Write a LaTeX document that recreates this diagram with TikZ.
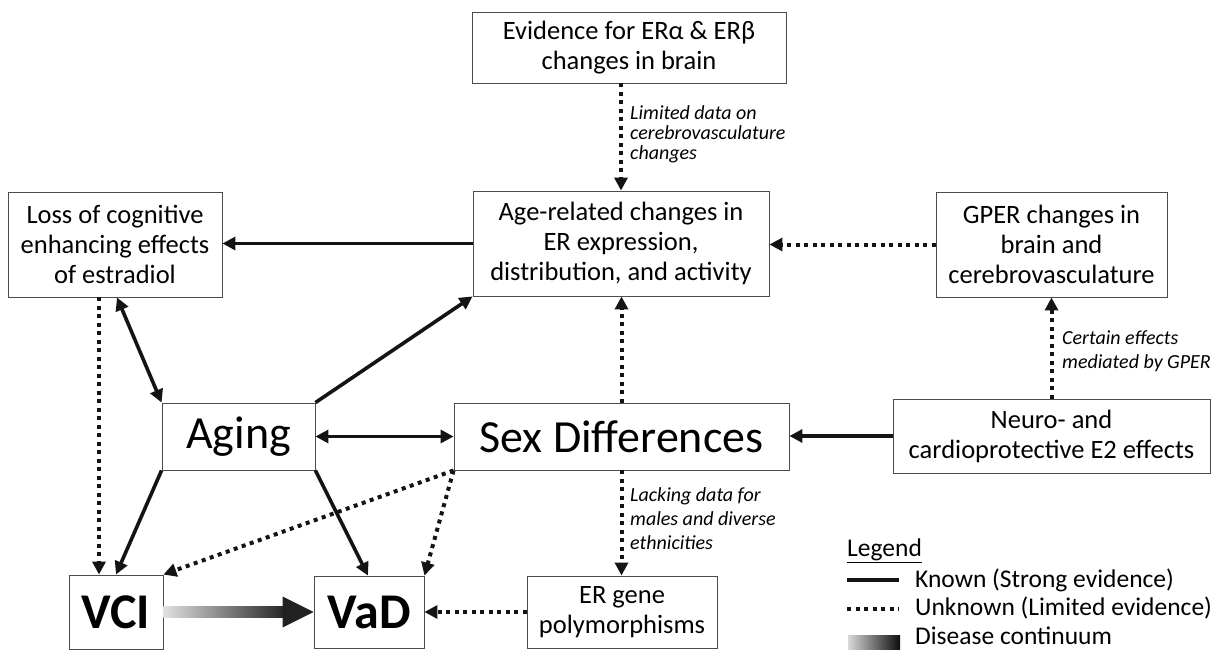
\documentclass[tikz,border=0pt]{standalone}
\usepackage{fontspec}
\setmainfont{Carlito}
\usetikzlibrary{arrows.meta,calc}
\tikzset{
  box/.style={draw=black!70, line width=0.9pt, inner sep=0pt, align=center,
    font=\fontsize{26.5}{30}\selectfont},
  big/.style={box, font=\fontsize{46}{50}\selectfont},
  bold/.style={box, font=\fontsize{50}{54}\selectfont\bfseries},
  sol/.style={line width=3.6pt, draw=black!92},
  dot/.style={line width=4pt, draw=black!92, dash pattern=on 4pt off 4.5pt},
  tipend/.style={-{Triangle[length=13pt,width=13pt]}},
  tipboth/.style={{Triangle[length=13pt,width=13pt]}-{Triangle[length=13pt,width=13pt]}},
  note/.style={inner sep=0pt, align=left, anchor=north west,
    font=\fontsize{20}{24}\selectfont\itshape},
  legtext/.style={inner sep=0pt, anchor=west, font=\fontsize{25.5}{29}\selectfont}
}
\begin{document}
\begin{tikzpicture}[x=1pt,y=-1pt]
\useasboundingbox (0,0) rectangle (1229,650);
% boxes
\node[box, minimum width=314pt, minimum height=71pt] (ev) at (629,47.5) {Evidence for ERα \& ERβ\\changes in brain};
\node[box, minimum width=296pt, minimum height=105pt] (age) at (621,243.5) {Age-related changes in\\ER expression,\\distribution, and activity};
\node[box, minimum width=214pt, minimum height=105pt] (loss) at (115,244.5) {Loss of cognitive\\enhancing effects\\of estradiol};
\node[box, minimum width=231pt, minimum height=105pt] (gper) at (1051.5,244.5) {GPER changes in\\brain and\\cerebrovasculature};
\node[big, minimum width=153pt, minimum height=67pt] (aging) at (238.5,436.5) {Aging};
\node[big, minimum width=335pt, minimum height=67pt] (sex) at (621.5,436.5) {Sex Differences};
\node[box, minimum width=317pt, minimum height=74pt] (neuro) at (1051.5,436) {Neuro- and\\cardioprotective E2 effects};
\node[bold, minimum width=94pt, minimum height=74pt] (vci) at (116,612) {VCI};
\node[bold, minimum width=110pt, minimum height=72pt] (vad) at (369,612) {VaD};
\node[box, minimum width=190pt, minimum height=72pt] (erg) at (622,612) {ER gene\\polymorphisms};

% connectors
\draw[dot, tipend] (ev.south -| age.north) -- (age.north);
\draw[sol, tipend] (age.west) -- (age.west -| loss.east);
\draw[dot, tipend] (gper.west) -- (gper.west -| age.east);
\draw[sol, tipboth] ([xshift=2pt]loss.south) -- (aging.north west);
\draw[sol, tipend] (aging.north east) -- (age.south west);
\draw[sol, tipboth] (aging.east) -- (sex.west);
\draw[sol, tipend] (neuro.west) -- (neuro.west -| sex.east);
\draw[dot, tipend] (neuro.north) -- (gper.south);
\draw[dot, tipend] (sex.north) -- (sex.north |- age.south);
\draw[dot, tipend] (sex.south) -- (sex.south |- erg.north);
\draw[dot, tipend] (erg.west) -- (vad.east);
\draw[dot, tipend] ([xshift=-16pt]loss.south) -- ([xshift=-17pt]vci.north);
\draw[sol, tipend] (aging.south west) -- (vci.north);
\draw[sol, tipend] (aging.south east) -- ([xshift=-1pt]vad.north);
\draw[dot, tipend] (sex.south west) -- (vad.north east);
\draw[dot, tipend] (sex.south west) -- (vci.north east);

% disease continuum arrow
\coordinate (g0) at (vci.east);
\coordinate (g1) at (vad.west);
\shade[left color=black!12, right color=black!85] ([yshift=5.5pt]g0) rectangle ([xshift=-30pt,yshift=-5.5pt]g1);
\fill[black!87] ([xshift=-31pt,yshift=15.5pt]g1) -- (g1) -- ([xshift=-31pt,yshift=-15.5pt]g1) -- cycle;

% notes
\node[note, font=\fontsize{20}{20}\selectfont\itshape] (n1) at (630,105) {Limited data on\\cerebrovasculature\\changes};
\node[note] (n2) at (1062,330) {Certain effects\\mediated by GPER};
\node[note] (n3) at (630,487) {Lacking data for\\males and diverse\\ethnicities};

% legend
\node[inner sep=0pt, anchor=base west, font=\fontsize{25.5}{29}\selectfont] (lg) at (847,556) {\underline{Legend}};
\coordinate (k1) at (847,580); \coordinate (k2) at (899,580);
\draw[sol] (k1) -- (k2);
\node[legtext] (kt) at (915,580) {Known (Strong evidence)};
\coordinate (u1) at (847,609); \coordinate (u2) at (899,609);
\draw[dot] (u1) -- (u2);
\node[legtext] (ut) at (915,608) {Unknown (Limited evidence)};
\shade[left color=black!15, right color=black!95] (848,635) rectangle (900,650);
\node[legtext] (dt) at (915,636) {Disease continuum};
\end{tikzpicture}
\end{document}
